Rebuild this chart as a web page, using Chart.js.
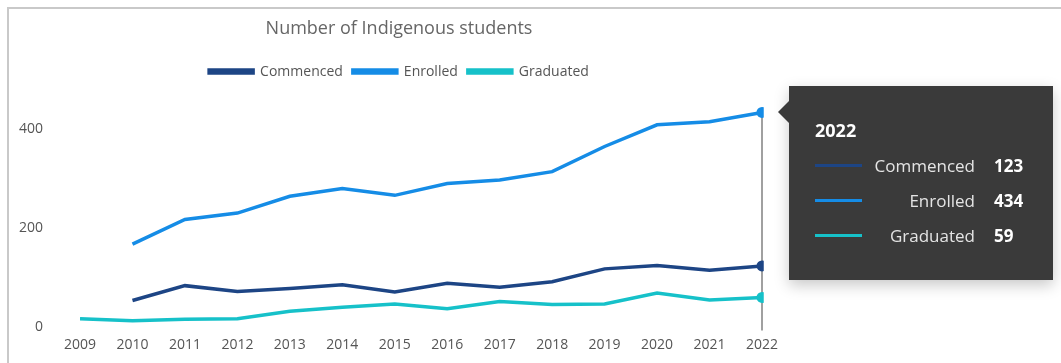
<!DOCTYPE html>
<html>
<head>
<meta charset="utf-8">
<script src="https://cdn.jsdelivr.net/npm/chart.js@4.4.1/dist/chart.umd.min.js"></script>
<style>
  html, body { margin: 0; padding: 0; background: #fff; }
  body { width: 1061px; height: 363px; position: relative; overflow: hidden;
         font-family: "Segoe UI", "Open Sans", sans-serif; }
  .frame { position: absolute; left: 7px; top: 7px; right: -10px; bottom: -10px;
           border-top: 2px solid #c9c9c9; border-left: 2px solid #c9c9c9; }
  #wrap { position: absolute; left: 0; top: 0; width: 1061px; height: 372px; }
  #tip { position: absolute; display: none; width: 264px; height: 194px; box-sizing: border-box;
         background: #3a3a3a; color: #fff; padding: 33px 0 0 26px;
         box-shadow: 0 5px 14px rgba(0, 0, 0, 0.22); }
  #tip::before { content: ""; position: absolute; left: -11px; top: 15px;
                 border-top: 11px solid transparent; border-bottom: 11px solid transparent;
                 border-right: 11px solid #3a3a3a; }
  #tip .ttl { font-size: 18px; font-weight: bold; line-height: 22px; margin-bottom: 7px; }
  #tip .row { display: flex; align-items: center; height: 35px; }
  #tip .sw { width: 47px; height: 3px; }
  #tip .lbl { width: 113px; text-align: right; font-size: 17px; color: #e4e4e4; }
  #tip .val { margin-left: 19px; font-size: 17px; font-weight: bold; }
</style>
</head>
<body>
<div class="frame"></div>
<div id="wrap"><canvas id="chart"></canvas></div>
<div id="tip"></div>
<script>
// Chart data
const years = ["2009", "2010", "2011", "2012", "2013", "2014", "2015", "2016", "2017", "2018", "2019", "2020", "2021", "2022"];
const commenced = [null, 53, 83, 71, 77, 85, 70, 88, 80, 91, 117, 124, 114, 123];
const enrolled = [null, 167, 217, 230, 264, 280, 266, 290, 297, 314, 365, 409, 415, 434];
const graduated = [16, 12, 15, 16, 31, 39, 46, 36, 51, 45, 46, 68, 54, 59];
const yTicks = [0, 200, 400];

const seriesNames = ["Commenced", "Enrolled", "Graduated"];
const seriesColors = ["#1d4585", "#158ce6", "#16c1c9"];
const FONT = "'Segoe UI', 'Open Sans', sans-serif";

// Build the HTML tooltip box
function renderTip(context) {
  const { chart, tooltip } = context;
  const tip = document.getElementById("tip");
  if (tooltip.opacity === 0 || !tooltip.dataPoints || !tooltip.dataPoints.length) {
    tip.style.display = "none";
    return;
  }
  let html = `<div class="ttl">${tooltip.title[0]}</div>`;
  tooltip.dataPoints.forEach((dp) => {
    const color = dp.dataset.borderColor;
    html += `<div class="row"><div class="sw" style="background:${color}"></div>` +
      `<div class="lbl">${dp.dataset.label}</div><div class="val">${dp.formattedValue}</div></div>`;
  });
  tip.innerHTML = html;
  const topY = Math.min(...tooltip.dataPoints.map((dp) => dp.element.y));
  tip.style.left = chart.canvas.offsetLeft + tooltip.caretX + 27 + "px";
  tip.style.top = chart.canvas.offsetTop + topY - 26 + "px";
  tip.style.display = "block";
}

// Vertical hover line
const hoverLine = {
  id: "hoverLine",
  beforeDatasetsDraw(chart) {
    const active = chart.getActiveElements();
    if (!active.length) return;
    const x = active[0].element.x;
    const top = Math.min(...active.map((a) => a.element.y));
    const ctx = chart.ctx;
    ctx.save();
    ctx.strokeStyle = "#a0a0a0";
    ctx.lineWidth = 2;
    ctx.beginPath();
    ctx.moveTo(x, top);
    ctx.lineTo(x, chart.chartArea.bottom + 4);
    ctx.stroke();
    ctx.restore();
  },
};

// Extra space under the legend, and centre title + legend over the visual
const headerLayout = {
  id: "headerLayout",
  beforeInit(chart) {
    const fit = chart.legend.fit;
    chart.legend.fit = function () {
      fit.call(this);
      this.height += 11;
    };
  },
  afterLayout(chart) {
    [chart.titleBlock, chart.legend].forEach((box) => {
      const dx = 399 - (box.left + box.right) / 2;
      box.left += dx;
      box.right += dx;
    });
  },
};

const datasets = [commenced, enrolled, graduated].map((values, i) => ({
  label: seriesNames[i],
  data: values,
  borderColor: seriesColors[i],
  backgroundColor: seriesColors[i],
  borderWidth: 3.5,
  tension: 0,
  pointRadius: 0,
  pointHoverRadius: 5.5,
  pointHoverBorderWidth: 0,
  pointHoverBackgroundColor: seriesColors[i],
}));

const chart = new Chart(document.getElementById("chart"), {
  type: "line",
  data: { labels: years, datasets: datasets },
  plugins: [hoverLine, headerLayout],
  options: {
    responsive: true,
    maintainAspectRatio: false,
    animation: false,
    events: [],
    layout: { padding: { left: -18, right: 299, top: 0, bottom: -2 } },
    plugins: {
      title: {
        display: true,
        text: "Number of Indigenous students",
        color: "#666",
        font: { family: FONT, size: 18, weight: "normal" },
        padding: { top: 18, bottom: 15 },
      },
      legend: {
        display: true,
        labels: {
          color: "#555",
          font: { family: FONT, size: 14 },
          boxWidth: 44,
          boxHeight: 3,
          padding: 10,
        },
      },
      tooltip: {
        enabled: false,
        mode: "index",
        intersect: false,
        external: renderTip,
      },
    },
    scales: {
      x: {
        grid: { display: false, drawTicks: false },
        border: { display: false },
        ticks: {
          color: "#555",
          padding: 10,
          maxRotation: 0,
          font: { family: FONT, size: 14 },
        },
      },
      y: {
        min: 0,
        max: 460,
        afterBuildTicks: (axis) => { axis.ticks = yTicks.map((v) => ({ value: v })); },
        grid: { display: false, drawTicks: false },
        border: { display: false },
        ticks: {
          color: "#555",
          padding: 37,
          font: { family: FONT, size: 14 },
        },
      },
    },
  },
});

// Show the 2022 hover state
const last = years.length - 1;
const active = datasets.map((d, i) => ({ datasetIndex: i, index: last }));
chart.setActiveElements(active);
chart.tooltip.setActiveElements(active, { x: 0, y: 0 });
chart.update();
</script>
</body>
</html>
